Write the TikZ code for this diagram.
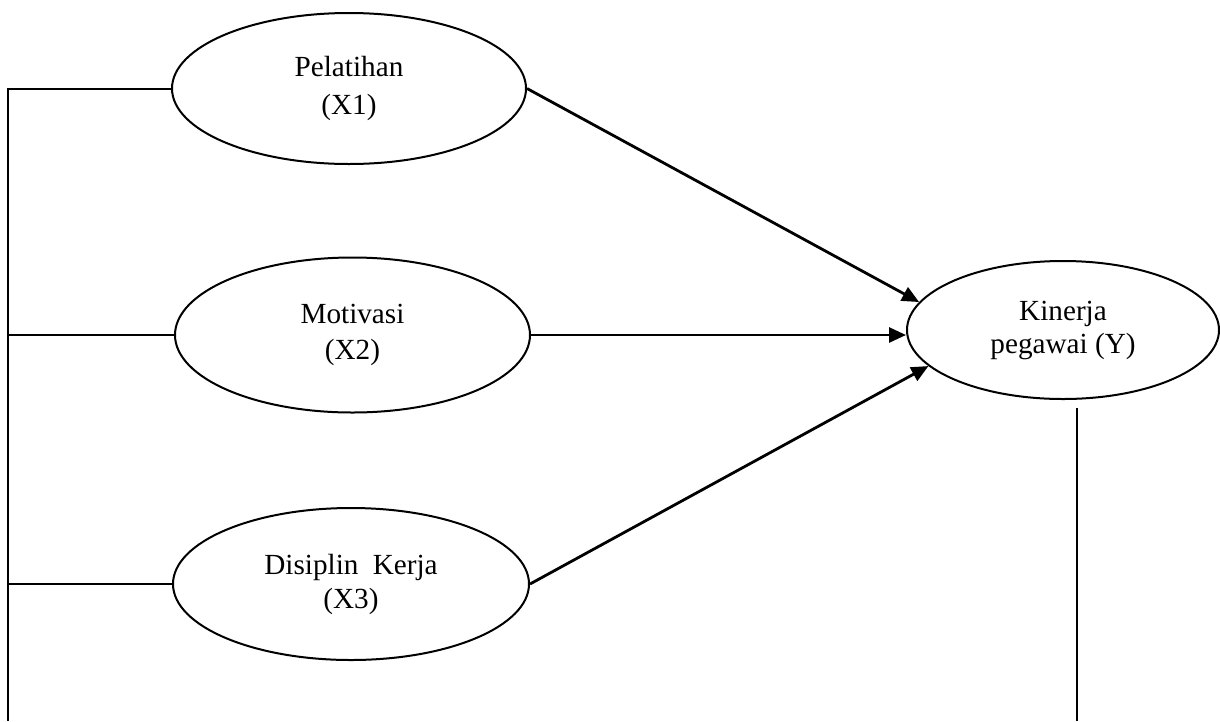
\documentclass[tikz,border=0pt]{standalone}
\usepackage{fontspec}
\setmainfont{Liberation Serif}
\usetikzlibrary{shapes.geometric,arrows.meta}
\tikzset{
  var/.style={ellipse, draw, line width=2pt, inner sep=0pt, align=center},
  link/.style={line width=2pt},
  path arrow/.style={line width=2.8pt, -{Triangle[length=17pt,width=15pt]}},
}
\begin{document}
\begin{tikzpicture}[x=1pt,y=-1pt]
\useasboundingbox (0,0) rectangle (1220,721);
\node[var, minimum width=354pt, minimum height=151pt, font=\fontsize{29.2}{38}\selectfont] (x1) at (349,88.5) {Pelatihan\\(X1)};
\node[var, minimum width=355pt, minimum height=155pt, font=\fontsize{29.2}{36}\selectfont] (x2) at (352.5,335) {Motivasi\\(X2)};
\node[var, minimum width=356pt, minimum height=152pt, font=\fontsize{29.2}{34}\selectfont] (x3) at (351,584) {Disiplin\hspace{7pt} Kerja\\(X3)};
\node[var, minimum width=312pt, minimum height=138pt, font=\fontsize{29.2}{33}\selectfont] (y) at (1063,330) {Kinerja\\pegawai (Y)};
\coordinate (lt) at (8,86);
\coordinate (lb) at (8,721);
\coordinate (rt) at (1077,408);
\coordinate (rb) at (1077,721);
\draw[link] (x1.west) -- (x1.west -| lt) -- (lb);
\draw[link] (x2.west) -- (x2.west -| lt);
\draw[link] (x3.west) -- (x3.west -| lt);
\draw[link] (rt) -- (rb);
\draw[path arrow] (x1.east) -- (y.169);
\draw[path arrow] (x2.east) -- (x2.east -| y.west);
\draw[path arrow] (x3.east) -- (y.195);
\end{tikzpicture}
\end{document}
